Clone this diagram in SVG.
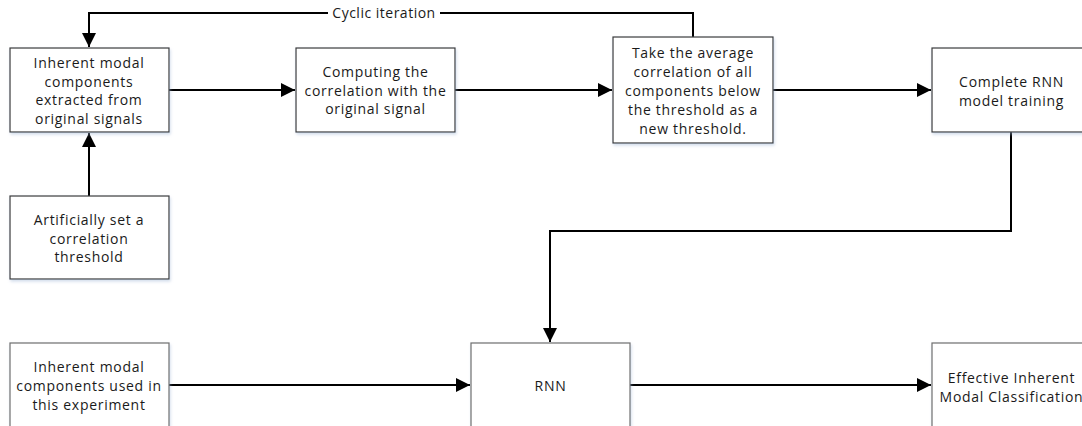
<svg xmlns="http://www.w3.org/2000/svg" width="1082" height="426" viewBox="0 0 1082 426">
<style>
.box{fill:#ffffff;stroke:#3a3a3a;stroke-width:1.2;filter:url(#sh)}
.box2{fill:#ffffff;stroke:#6e6e6e;stroke-width:1.2;filter:url(#sh)}
.t{font-family:"Open Sans","Liberation Sans",sans-serif;font-size:14px;fill:#1a1a1a;text-anchor:middle;letter-spacing:0.7px}
.c{fill:none;stroke:#000;stroke-width:2}
</style>
<defs>
<filter id="sh" x="-10%" y="-10%" width="130%" height="130%">
<feDropShadow dx="1" dy="2" stdDeviation="1.5" flood-color="#9bb3d1" flood-opacity="0.45"/>
</filter>
<marker id="ah" markerUnits="userSpaceOnUse" markerWidth="15" markerHeight="14" refX="14" refY="7" orient="auto">
<path d="M0,0 L14,7 L0,14 Z" fill="#000"/>
</marker>
</defs>
<g id="connectors">
<path class="c" d="M693,37 V13 H89 V47" marker-end="url(#ah)"/>
<rect x="328" y="4" width="112" height="18" fill="#fff"/>
<text class="t" x="384" y="18" style="letter-spacing:0.5px">Cyclic iteration</text>
<path class="c" d="M169,90 H295" marker-end="url(#ah)"/>
<path class="c" d="M455,90 H612" marker-end="url(#ah)"/>
<path class="c" d="M773,90 H931" marker-end="url(#ah)"/>
<path class="c" d="M89,196 V133" marker-end="url(#ah)"/>
<path class="c" d="M1011,132 V231 H550 V342" marker-end="url(#ah)"/>
<path class="c" d="M169,385 H470" marker-end="url(#ah)"/>
<path class="c" d="M630,385 H931" marker-end="url(#ah)"/>
</g>
<g id="n1">
<rect class="box" x="10" y="48" width="159" height="84"/>
<text class="t" x="89" y="68">Inherent modal</text>
<text class="t" x="89" y="86.5">components</text>
<text class="t" x="89" y="105">extracted from</text>
<text class="t" x="89" y="123.5">original signals</text>
</g>
<g id="n2">
<rect class="box" x="296" y="48" width="159" height="84"/>
<text class="t" x="375.5" y="77">Computing the</text>
<text class="t" x="375.5" y="95.5">correlation with the</text>
<text class="t" x="375.5" y="114">original signal</text>
</g>
<g id="n3">
<rect class="box" x="613" y="37" width="160" height="106"/>
<text class="t" x="693" y="58">Take the average</text>
<text class="t" x="693" y="77">correlation of all</text>
<text class="t" x="693" y="96">components below</text>
<text class="t" x="693" y="115">the threshold as a</text>
<text class="t" x="693" y="133.5">new threshold.</text>
</g>
<g id="n4">
<rect class="box" x="932" y="48" width="159" height="84"/>
<text class="t" x="1011.5" y="87">Complete RNN</text>
<text class="t" x="1011.5" y="106">model training</text>
</g>
<g id="n5">
<rect class="box" x="10" y="196" width="159" height="83"/>
<text class="t" x="89" y="225">Artificially set a</text>
<text class="t" x="89" y="243.5">correlation</text>
<text class="t" x="89" y="262">threshold</text>
</g>
<g id="n6">
<rect class="box2" x="10" y="343" width="159" height="90"/>
<text class="t" x="89" y="372">Inherent modal</text>
<text class="t" x="89" y="391">components used in</text>
<text class="t" x="89" y="410">this experiment</text>
</g>
<g id="n7">
<rect class="box2" x="471" y="343" width="159" height="90"/>
<text class="t" x="550.5" y="391">RNN</text>
</g>
<g id="n8">
<rect class="box2" x="932" y="343" width="159" height="90"/>
<text class="t" x="1011.5" y="383">Effective Inherent</text>
<text class="t" x="1011.5" y="402">Modal Classification</text>
</g>
</svg>
